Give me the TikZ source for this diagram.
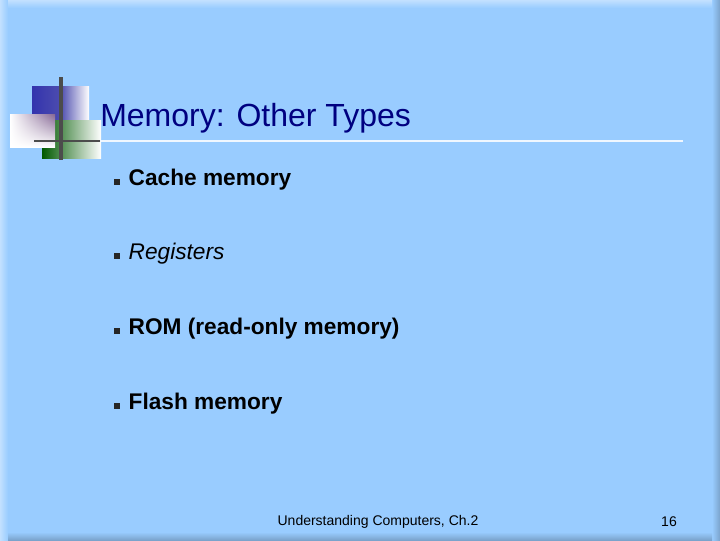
\documentclass[tikz,border=0pt]{standalone}
\usepackage{fontspec}
\setmainfont{Liberation Sans}
\usetikzlibrary{shadings}
\begin{document}
\begin{tikzpicture}[x=0.75pt,y=-0.75pt,
  bul/.style={fill=black!85,minimum size=5pt,inner sep=0pt},
  item/.style={anchor=west,font=\fontsize{17}{20}\selectfont,text=black}]
\useasboundingbox (0,0) rectangle (720,540);
\definecolor{bgc}{RGB}{153,204,255}
\fill[color=bgc!85!white] (0,0) rectangle (720,540);
\fill[bgc] (8,8) rectangle (712,532);
\shade[left color=bgc!60!white,right color=bgc] (0,0) rectangle (8,540);
\shade[left color=bgc,right color=bgc!80!black] (712,0) rectangle (720,540);
\shade[top color=bgc!60!white,bottom color=bgc] (8,0) rectangle (712,8);
\shade[top color=bgc,bottom color=bgc!80!black] (8,532) rectangle (712,540);
% logo
\shade[left color=blue!60!black!80,right color=white,middle color=blue!55!black!70] (32,86) rectangle (89,146);
\shade[left color=green!35!black,right color=white] (42,120) rectangle (101,158);
\shade[upper left=white,lower left=white,upper right=red!40!blue!50!black!60,lower right=white] (10,114) rectangle (55,147);
\draw[line width=2.5pt,black!70] (61,77) -- (61,160);
\draw[line width=2pt,black!70] (34,141) -- (100,141);
\draw[line width=1.5pt,white!85!bgc] (100,141) -- (683,141);
\node[anchor=base west,font=\fontsize{24}{28}\selectfont,text={rgb,255:red,0;green,0;blue,128},inner sep=0pt] (title) at (100,126) {Memory: Other Types};
\foreach \y/\t [count=\i] in {180/{\textbf{Cache memory}},254/{\textit{Registers}},329/{\textbf{ROM (read-only memory)}},404/{\textbf{Flash memory}}}{
  \node[bul] (b\i) at (117,\y+2) {};
  \node[item] (t\i) at (124,\y) {\t};
}
\node[font=\fontsize{10.5}{12}\selectfont] (foot) at (378,522) {Understanding Computers, Ch.2};
\node[font=\fontsize{10.5}{12}\selectfont] (num) at (669,522) {16};
\end{tikzpicture}
\end{document}
